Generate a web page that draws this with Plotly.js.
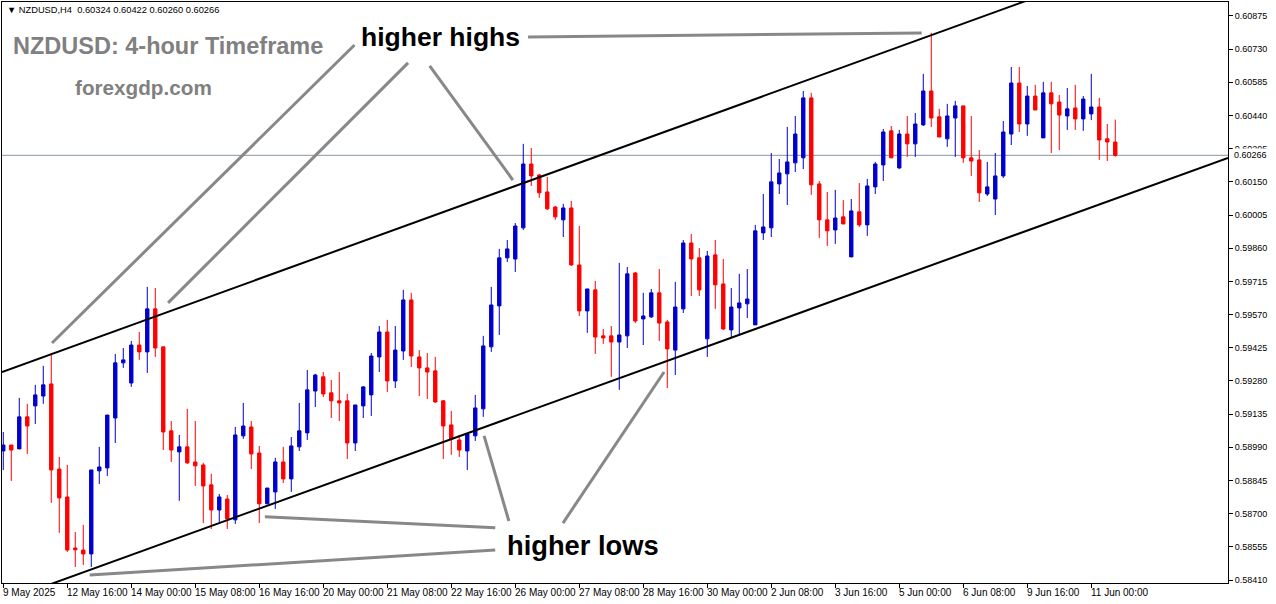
<!DOCTYPE html>
<html>
<head>
<meta charset="utf-8">
<script src="https://cdn.plot.ly/plotly-3.0.1.min.js"></script>
<style>
html,body{margin:0;padding:0;background:#fff;}
#chart{width:1276px;height:604px;}
</style>
</head>
<body>
<div id="chart"></div>
<script>
// 4-hour candles, index 0 = 9 May 2025 08:00
var openP = [
0.58974,0.59000,0.58983,0.59123,0.59171,0.59214,0.59267,0.58895,0.58773,0.58550,
0.58541,0.58524,0.58887,0.58900,0.59118,0.59359,0.59271,0.59437,0.59407,0.59595,
0.59429,0.59062,0.58970,0.58992,0.58926,0.58913,0.58826,0.58716,0.58764,0.58673,
0.59040,0.59079,0.58965,0.58743,0.58795,0.58926,0.58852,0.58992,0.59053,0.59236,
0.59298,0.59228,0.59193,0.59193,0.59009,0.59171,0.59219,0.59385,0.59494,0.59280,
0.59411,0.59634,0.59385,0.59337,0.59324,0.59193,0.59088,0.59022,0.58974,0.59040,
0.59158,0.59429,0.59608,0.59818,0.59813,0.59949,0.60228,0.60180,0.60106,0.60040,
0.59984,0.60036,0.59787,0.59586,0.59678,0.59477,0.59477,0.59450,0.59477,0.59752,
0.59551,0.59560,0.59665,0.59538,0.59415,0.59595,0.59883,0.59818,0.59464,0.59831,
0.59704,0.59503,0.59599,0.59617,0.59525,0.59927,0.59949,0.60141,0.60185,0.60233,
0.60255,0.60517,0.60141,0.59984,0.59940,0.59997,0.59822,0.60019,0.59962,0.60128,
0.60224,0.60373,0.60211,0.60359,0.60316,0.60399,0.60547,0.60434,0.60338,0.60429,
0.60482,0.60255,0.60246,0.60097,0.60075,0.60176,0.60359,0.60582,0.60403,0.60525,
0.60342,0.60539,0.60499,0.60438,0.60473,0.60425,0.60447,0.60477,0.60338,0.60324];
var highP = [
0.59057,0.59000,0.59206,0.59180,0.59263,0.59346,0.59402,0.58948,0.58913,0.58620,
0.58651,0.58891,0.58992,0.59131,0.59398,0.59424,0.59455,0.59494,0.59691,0.59686,
0.59429,0.59105,0.59044,0.59158,0.59105,0.58922,0.58874,0.58786,0.58782,0.59079,
0.59184,0.59105,0.58996,0.58812,0.58944,0.58992,0.59035,0.59184,0.59328,0.59311,
0.59319,0.59284,0.59319,0.59223,0.59175,0.59258,0.59402,0.59520,0.59547,0.59520,
0.59678,0.59665,0.59415,0.59402,0.59385,0.59197,0.59149,0.59044,0.59048,0.59219,
0.59477,0.59691,0.59857,0.59896,0.59970,0.60316,0.60298,0.60185,0.60172,0.60045,
0.60054,0.60067,0.59957,0.59682,0.59717,0.59507,0.59520,0.59796,0.59778,0.59756,
0.59665,0.59682,0.59769,0.59547,0.59713,0.59896,0.59922,0.59861,0.59848,0.59896,
0.59813,0.59686,0.59748,0.59769,0.59962,0.60097,0.60276,0.60250,0.60390,0.60438,
0.60547,0.60539,0.60154,0.60106,0.60115,0.60071,0.60075,0.60145,0.60163,0.60237,
0.60381,0.60394,0.60377,0.60438,0.60451,0.60622,0.60801,0.60469,0.60491,0.60504,
0.60482,0.60438,0.60289,0.60237,0.60276,0.60416,0.60652,0.60652,0.60569,0.60574,
0.60587,0.60587,0.60530,0.60560,0.60574,0.60525,0.60622,0.60517,0.60403,0.60422];
var lowP = [
0.58891,0.58843,0.58983,0.58961,0.59092,0.59180,0.58747,0.58616,0.58533,0.58467,
0.58476,0.58467,0.58830,0.58865,0.59009,0.59337,0.59254,0.59372,0.59315,0.59385,
0.58978,0.58926,0.58756,0.58917,0.58821,0.58659,0.58633,0.58664,0.58633,0.58655,
0.59027,0.58895,0.58659,0.58743,0.58721,0.58834,0.58795,0.58974,0.59022,0.59166,
0.59210,0.59118,0.59105,0.58939,0.58974,0.59118,0.59127,0.59319,0.59232,0.59249,
0.59372,0.59341,0.59214,0.59201,0.59184,0.58939,0.58957,0.58948,0.58891,0.59018,
0.59123,0.59407,0.59481,0.59800,0.59756,0.59940,0.60132,0.60080,0.60027,0.59984,
0.59909,0.59783,0.59564,0.59490,0.59398,0.59442,0.59298,0.59241,0.59424,0.59533,
0.59437,0.59555,0.59455,0.59249,0.59306,0.59577,0.59651,0.59651,0.59385,0.59595,
0.59503,0.59468,0.59477,0.59555,0.59525,0.59896,0.59909,0.60097,0.60049,0.60193,
0.60206,0.60093,0.59905,0.59870,0.59879,0.59966,0.59822,0.59953,0.59914,0.60097,
0.60154,0.60255,0.60206,0.60259,0.60259,0.60394,0.60390,0.60346,0.60303,0.60259,
0.60233,0.60176,0.60062,0.60088,0.60005,0.60167,0.60311,0.60368,0.60351,0.60464,
0.60342,0.60276,0.60289,0.60377,0.60377,0.60373,0.60420,0.60246,0.60241,0.60260];
var closeP = [
0.59000,0.58978,0.59123,0.59083,0.59219,0.59263,0.58891,0.58769,0.58541,0.58542,
0.58524,0.58891,0.58904,0.59131,0.59359,0.59372,0.59437,0.59407,0.59595,0.59424,
0.59057,0.58978,0.58992,0.58922,0.58909,0.58821,0.58716,0.58773,0.58677,0.59044,
0.59083,0.58961,0.58743,0.58812,0.58926,0.58852,0.58996,0.59062,0.59241,0.59306,
0.59223,0.59193,0.59184,0.59009,0.59175,0.59254,0.59389,0.59494,0.59280,0.59415,
0.59634,0.59389,0.59337,0.59319,0.59188,0.59083,0.59027,0.58978,0.59048,0.59162,
0.59433,0.59612,0.59818,0.59857,0.59957,0.60228,0.60176,0.60102,0.60032,0.59997,
0.60036,0.59787,0.59586,0.59682,0.59472,0.59468,0.59450,0.59481,0.59748,0.59542,
0.59564,0.59665,0.59533,0.59420,0.59603,0.59883,0.59813,0.59678,0.59826,0.59700,
0.59507,0.59603,0.59621,0.59638,0.59936,0.59953,0.60150,0.60189,0.60237,0.60359,
0.60517,0.60137,0.59984,0.59936,0.59992,0.59966,0.60023,0.59962,0.60132,0.60228,
0.60368,0.60255,0.60359,0.60316,0.60403,0.60547,0.60429,0.60346,0.60438,0.60482,
0.60255,0.60241,0.60102,0.60128,0.60176,0.60368,0.60582,0.60403,0.60525,0.60464,
0.60539,0.60491,0.60442,0.60469,0.60425,0.60512,0.60477,0.60333,0.60324,0.60266];

var tickIdx = [0,8,16,24,32,40,48,56,64,72,80,88,96,104,112,120,128,136];
var tickText = ["9 May 2025","12 May 16:00","14 May 00:00","15 May 08:00","16 May 16:00",
"20 May 00:00","21 May 08:00","22 May 16:00","26 May 00:00","27 May 08:00","28 May 16:00",
"30 May 00:00","2 Jun 08:00","3 Jun 16:00","5 Jun 00:00","6 Jun 08:00","9 Jun 16:00","11 Jun 00:00"];

var lastPrice = 0.60266;
// channel anchor points (candle index, price)
var upperLine = {x0:-0.16, y0:0.59319, x1:153.09, y1:0.61261};
var lowerLine = {x0:-0.16, y0:0.58315, x1:153.09, y1:0.60255};
// pointer lines (candle index, price)
var highPointers = [[65.6,0.60783,114.8,0.60801],[43.9,0.60748,6.09,0.59446],[50.6,0.60670,20.6,0.59621],[53.3,0.60657,63.7,0.60158]];
var lowPointers = [[61.5,0.58638,32.7,0.58686],[61.5,0.58541,10.8,0.58432],[60.1,0.59040,63.2,0.58668],[69.96,0.58659,82.6,0.59319]];

var idx = openP.map(function(_, i){ return i; });

var trace = {
  type: 'candlestick',
  x: idx, open: openP, high: highP, low: lowP, close: closeP,
  increasing: {line: {color: '#0000cc', width: 1}, fillcolor: '#0000cc'},
  decreasing: {line: {color: '#ff0000', width: 1}, fillcolor: '#ff0000'},
  whiskerwidth: 0,
  hoverinfo: 'skip',
  showlegend: false
};

var shapes = [];
shapes.push({type:'line', xref:'x', yref:'y', x0:upperLine.x0, y0:upperLine.y0, x1:upperLine.x1, y1:upperLine.y1, line:{color:'#000', width:2}, layer:'above'});
shapes.push({type:'line', xref:'x', yref:'y', x0:lowerLine.x0, y0:lowerLine.y0, x1:lowerLine.x1, y1:lowerLine.y1, line:{color:'#000', width:2}, layer:'above'});
shapes.push({type:'line', xref:'paper', yref:'y', x0:0, x1:1, y0:lastPrice, y1:lastPrice, line:{color:'#8a96a0', width:1}, layer:'below'});
highPointers.concat(lowPointers).forEach(function(p){
  shapes.push({type:'line', xref:'x', yref:'y', x0:p[0], y0:p[1], x1:p[2], y1:p[3], line:{color:'#888888', width:3}, layer:'above'});
});

var annotations = [];
tickIdx.forEach(function(k, i){
  annotations.push({xref:'x', yref:'paper', x:k, y:0, xanchor:'left', yanchor:'top', yshift:-2, xshift:-2,
    text: tickText[i], showarrow:false, font:{family:'Liberation Sans, Arial, sans-serif', size:10, color:'#000'}});
});
annotations.push({xref:'paper', yref:'paper', x:0, y:1, xanchor:'left', yanchor:'top', xshift:3, yshift:-1,
  text:'\u25BC NZDUSD,H4  0.60324 0.60422 0.60260 0.60266', showarrow:false,
  font:{family:'Liberation Sans, Arial, sans-serif', size:9.3, color:'#000'}});
annotations.push({xref:'paper', yref:'paper', x:0, y:1, xanchor:'left', yanchor:'middle', xshift:9, yshift:-44,
  text:'<b>NZDUSD: 4-hour Timeframe</b>', showarrow:false,
  font:{family:'Liberation Sans, Arial, sans-serif', size:23.5, color:'#808080'}});
annotations.push({xref:'paper', yref:'paper', x:0, y:1, xanchor:'left', yanchor:'middle', xshift:71, yshift:-85,
  text:'<b>forexgdp.com</b>', showarrow:false,
  font:{family:'Liberation Sans, Arial, sans-serif', size:20.7, color:'#808080'}});
annotations.push({xref:'x', yref:'y', x:54.7, y:0.60783, xanchor:'center', yanchor:'middle',
  text:'<b>higher highs</b>', showarrow:false,
  font:{family:'Liberation Sans, Arial, sans-serif', size:26.5, color:'#000'}});
annotations.push({xref:'x', yref:'y', x:72.5, y:0.58563, xanchor:'center', yanchor:'middle',
  text:'<b>higher lows</b>', showarrow:false,
  font:{family:'Liberation Sans, Arial, sans-serif', size:27.3, color:'#000'}});
annotations.push({xref:'paper', yref:'y', x:1, y:lastPrice, xanchor:'left', yanchor:'middle', xshift:4,
  text:'0.60266', showarrow:false, bgcolor:'#ffffff',
  font:{family:'Liberation Sans, Arial, sans-serif', size:9, color:'#000'}});

var layout = {
  width: 1276, height: 604,
  margin: {l:2, r:48, t:2, b:21, pad:0},
  paper_bgcolor: '#ffffff', plot_bgcolor: '#ffffff',
  showlegend: false,
  boxgap: 0.4,
  xaxis: {
    range: [-0.16, 153.09], showgrid:false, zeroline:false,
    showline:true, linecolor:'#000', linewidth:1, mirror:true,
    tickmode:'array', tickvals: tickIdx, showticklabels:false,
    ticks:'outside', ticklen:4, tickcolor:'#000',
    rangeslider: {visible:false}, fixedrange:true
  },
  yaxis: {
    side:'right', range:[0.58397, 0.60936], showgrid:false, zeroline:false,
    showline:true, linecolor:'#000', linewidth:1, mirror:true,
    tick0: 0.58410, dtick: 0.00145, tickformat: '.5f',
    ticks:'outside', ticklen:4, tickcolor:'#000',
    tickfont:{family:'Liberation Sans, Arial, sans-serif', size:9, color:'#000'},
    fixedrange:true
  },
  shapes: shapes,
  annotations: annotations
};

Plotly.newPlot('chart', [trace], layout, {displayModeBar:false, staticPlot:true});
</script>
</body>
</html>
